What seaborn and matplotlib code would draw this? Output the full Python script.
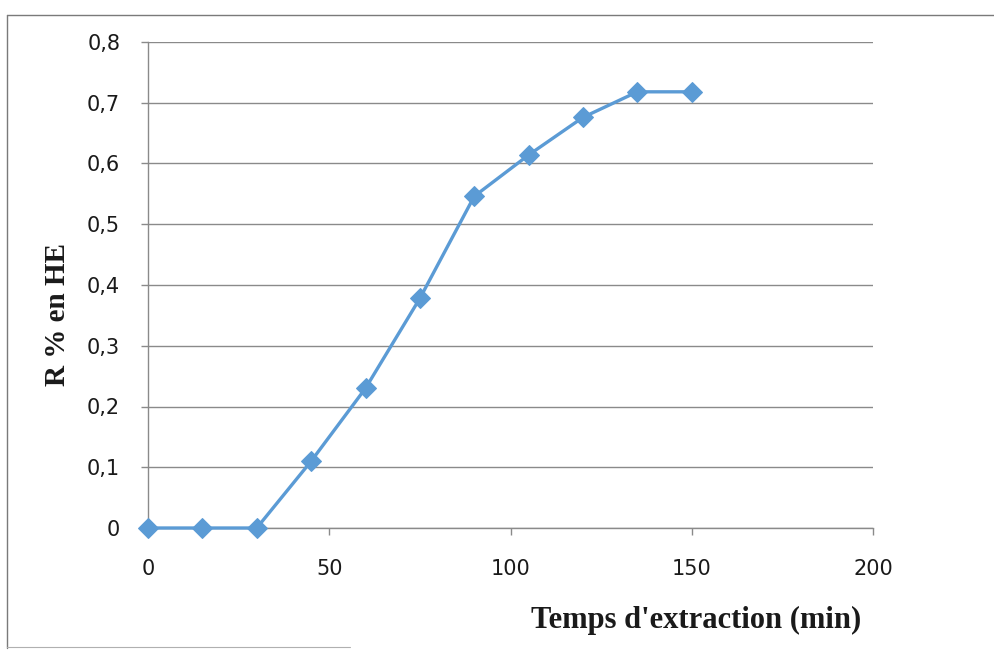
import matplotlib
matplotlib.use("Agg")
import matplotlib.pyplot as plt
import matplotlib.lines as mlines
from matplotlib.ticker import FuncFormatter, MultipleLocator
import seaborn as sns
import pandas as pd

# Extraction time (min) and essential-oil yield (%)
temps = [0, 15, 30, 45, 60, 75, 90, 105, 120, 135, 150]
rendement = [0, 0, 0, 0.11, 0.23, 0.378, 0.546, 0.614, 0.676, 0.718, 0.718]
x_label = "Temps d'extraction (min)"
y_label = "R % en HE"

df = pd.DataFrame({"temps": temps, "rendement": rendement})

sns.set_style("white")
plt.rcParams["font.family"] = ["DejaVu Sans"]

W, H = 995, 650
fig = plt.figure(figsize=(W / 100, H / 100), dpi=100)
ax = fig.add_axes([148 / W, 1 - 528 / H, (873 - 148) / W, (528 - 42) / H])

line_color = "#5B9BD5"
sns.lineplot(data=df, x="temps", y="rendement", ax=ax, color=line_color,
             linewidth=2.4, marker="D", markersize=10,
             markeredgecolor=line_color, markerfacecolor=line_color,
             clip_on=False, zorder=5)

ax.set_xlim(0, 200)
ax.set_ylim(0, 0.8)
ax.xaxis.set_major_locator(MultipleLocator(50))
ax.yaxis.set_major_locator(MultipleLocator(0.1))

def comma_fmt(v, pos):
    s = f"{v:.1f}" if abs(v) > 1e-9 else "0"
    return s.replace(".", ",")

ax.yaxis.set_major_formatter(FuncFormatter(comma_fmt))
ax.xaxis.set_major_formatter(FuncFormatter(lambda v, p: f"{int(round(v))}"))

grid_color = "#8a8a8a"
ax.grid(axis="y", color=grid_color, linewidth=1.0)
ax.grid(axis="x", visible=False)
ax.set_axisbelow(True)
for side in ["top", "right"]:
    ax.spines[side].set_visible(False)
for side in ["left", "bottom"]:
    ax.spines[side].set_color(grid_color)
    ax.spines[side].set_linewidth(1.0)

ax.tick_params(axis="y", length=5, width=1.0, color=grid_color, pad=15,
               labelsize=15, labelcolor="#1a1a1a", left=True)
ax.tick_params(axis="x", length=5, width=1.0, color=grid_color, pad=17,
               labelsize=15, labelcolor="#1a1a1a", bottom=True)

ax.set_xlabel("")
ax.set_ylabel("")
label_font = dict(family=["Liberation Serif"], fontweight="bold",
                  color="#1a1a1a")
fig.text(696 / W, 1 - 620 / H, x_label, ha="center", va="center",
         fontsize=22, **label_font)
fig.text(58 / W, 1 - 314 / H, y_label, ha="center", va="center",
         rotation=90, fontsize=21, **label_font)

# Thin chart-area border
frame_color = "#7a7a7a"
fig.add_artist(mlines.Line2D([7 / W, 7 / W], [1 - 15 / H, 1 - 648 / H],
                             transform=fig.transFigure, color=frame_color, lw=1.0))
fig.add_artist(mlines.Line2D([7 / W, 1.0], [1 - 15 / H, 1 - 15 / H],
                             transform=fig.transFigure, color=frame_color, lw=1.0))
fig.add_artist(mlines.Line2D([7 / W, 350 / W], [1 - 647 / H, 1 - 647 / H],
                             transform=fig.transFigure, color="#b0b0b0", lw=0.8))

fig.savefig("out.png", dpi=100)
